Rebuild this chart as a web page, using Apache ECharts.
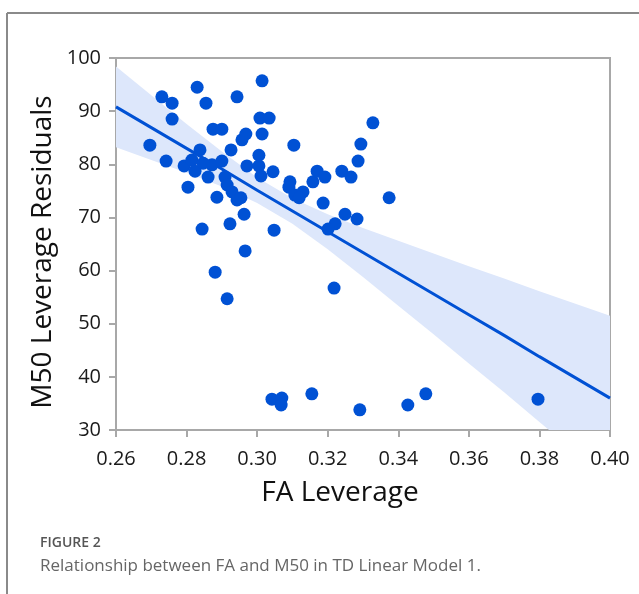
<!DOCTYPE html>
<html><head><meta charset="utf-8">
<script src="https://cdn.jsdelivr.net/npm/echarts@6/dist/echarts.min.js"></script>
<style>html,body{margin:0;padding:0;background:#fff}#c{width:639px;height:594px}</style>
</head><body><div id="c"></div>
<script>
// FA Leverage (x) and M50 Leverage Residuals (y)
const faLeverage = [
  0.2696,0.2730,0.2759,0.2759,0.2742,0.2830,0.2855,0.2943,0.3014,0.2875,
  0.2900,0.3008,0.3034,0.2968,0.2957,0.3014,0.2838,0.2926,0.2793,0.2815,
  0.2824,0.2804,0.2872,0.2900,0.2861,0.2909,0.2915,0.2971,0.3005,0.3005,
  0.3011,0.3045,0.2886,0.2929,0.2943,0.2954,0.2963,0.2844,0.2923,0.3048,
  0.2966,0.2881,0.2915,0.3104,0.3093,0.3090,0.3107,0.3130,0.3119,0.3158,
  0.3170,0.3192,0.3187,0.3240,0.3266,0.3249,0.3283,0.3221,0.3201,0.3294,
  0.3286,0.3328,0.3374,0.3218,0.3042,0.3070,0.3068,0.3155,0.3291,0.3427,
  0.3478,0.3796,0.2847
];
const m50Residuals = [
  83.6,92.7,91.5,88.5,80.6,94.5,91.5,92.7,95.7,86.6,
  86.6,88.7,88.7,85.7,84.6,85.7,82.7,82.7,79.7,80.8,
  78.7,75.7,79.9,80.6,77.6,77.6,76.1,79.7,81.7,79.7,
  77.8,78.6,73.8,74.8,73.3,73.7,70.6,67.8,68.8,67.6,
  63.7,59.7,54.7,83.6,76.7,75.7,74.2,74.8,73.7,76.7,
  78.7,77.6,72.7,78.7,77.6,70.6,69.7,68.8,67.8,83.8,
  80.6,87.8,73.7,56.7,35.8,36.0,34.7,36.8,33.8,34.7,
  36.8,35.8,80.2
];
// Fitted line and confidence band
const fitX     = [0.26,0.27,0.28,0.29,0.30,0.31,0.32,0.33,0.34,0.35,0.36,0.37,0.38,0.39,0.40];
const fitY     = [90.8,86.9,83.0,79.1,75.1,71.2,67.3,63.4,59.5,55.6,51.7,47.8,43.8,39.9,36.0];
const bandHigh = [98.4,93.0,87.6,82.4,77.5,73.6,70.6,68.0,65.6,63.2,60.8,58.5,56.1,53.8,51.5];
const bandLow  = [83.2,80.8,78.4,75.8,72.7,68.8,64.0,58.8,53.4,48.0,42.5,37.1,31.5,26.0,20.5];
// Axis ticks
const xTicks = [0.26,0.28,0.30,0.32,0.34,0.36,0.38,0.40];
const yTicks = [30,40,50,60,70,80,90,100];

const blue = '#0051d4';
const axisGray = '#a8a8a8';
const font = '"Open Sans", "Noto Sans", sans-serif';

const chart = echarts.init(document.getElementById('c'), null, {renderer: 'canvas'});
const scatterData = faLeverage.map((x, i) => [x, m50Residuals[i]]);
const fitData = fitX.map((x, i) => [x, fitY[i]]);
const bandData = fitX.map((x, i) => [x, bandLow[i], bandHigh[i]]);

chart.setOption({
  animation: false,
  backgroundColor: '#fff',
  grid: {left: 116, right: 29, top: 58, bottom: 164, show: true, borderColor: axisGray, borderWidth: 2, backgroundColor: 'transparent'},
  xAxis: {
    type: 'value', min: xTicks[0], max: xTicks[xTicks.length - 1], interval: 0.02,
    axisLine: {show: true, lineStyle: {color: axisGray, width: 2}},
    axisTick: {show: true, inside: false, length: 7, lineStyle: {color: axisGray, width: 2}},
    splitLine: {show: false},
    axisLabel: {margin: 19, color: '#1a1a1a', fontSize: 20, fontFamily: font, formatter: v => v.toFixed(2)}
  },
  yAxis: {
    type: 'value', min: yTicks[0], max: yTicks[yTicks.length - 1], interval: 10,
    axisLine: {show: true, lineStyle: {color: axisGray, width: 2}},
    axisTick: {show: true, inside: false, length: 7, lineStyle: {color: axisGray, width: 2}},
    splitLine: {show: false},
    axisLabel: {margin: 15, color: '#1a1a1a', fontSize: 20, fontFamily: font}
  },
  series: [
    {
      type: 'custom', data: bandData, clip: true, silent: true, z: 1,
      renderItem: function (params, api) {
        if (params.dataIndex !== 0) return null;
        const upper = bandData.map(d => api.coord([d[0], d[2]]));
        const lower = bandData.map(d => api.coord([d[0], d[1]])).reverse();
        const cs = params.coordSys;
        return {
          type: 'polygon',
          shape: {points: upper.concat(lower)},
          style: {fill: '#dde7fb'},
          clipPath: {type: 'rect', shape: {x: cs.x, y: cs.y, width: cs.width, height: cs.height}}
        };
      }
    },
    {type: 'line', data: fitData, symbol: 'none', lineStyle: {color: blue, width: 3}, z: 2},
    {type: 'scatter', data: scatterData, symbolSize: 13, itemStyle: {color: blue, opacity: 1}, z: 3}
  ],
  graphic: [
    {type: 'line', shape: {x1: 7, y1: 13, x2: 639, y2: 13}, style: {stroke: '#8a8a8a', lineWidth: 2}},
    {type: 'line', shape: {x1: 7, y1: 13, x2: 7, y2: 594}, style: {stroke: '#8a8a8a', lineWidth: 2}},
    {type: 'text', x: 43, y: 252, rotation: Math.PI / 2,
     style: {text: 'M50 Leverage Residuals', x: 0, y: 0, align: 'center', verticalAlign: 'middle', textAlign: 'center', textVerticalAlign: 'middle', fontSize: 28, fontFamily: font, fill: '#111'}},
    {type: 'text', x: 340, y: 493,
     style: {text: 'FA Leverage', x: 0, y: 0, align: 'center', verticalAlign: 'middle', textAlign: 'center', textVerticalAlign: 'middle', fontSize: 28, fontFamily: font, fill: '#111'}},
    {type: 'text', x: 40, y: 543,
     style: {text: 'FIGURE 2', x: 0, y: 0, align: 'left', verticalAlign: 'middle', textAlign: 'left', textVerticalAlign: 'middle', fontSize: 14, fontWeight: 600, fontFamily: font, fill: '#555'}},
    {type: 'text', x: 40, y: 566,
     style: {text: 'Relationship between FA and M50 in TD Linear Model 1.', x: 0, y: 0, align: 'left', verticalAlign: 'middle', textAlign: 'left', textVerticalAlign: 'middle', fontSize: 17, fontFamily: font, fill: '#666'}}
  ]
});
</script>
</body></html>
